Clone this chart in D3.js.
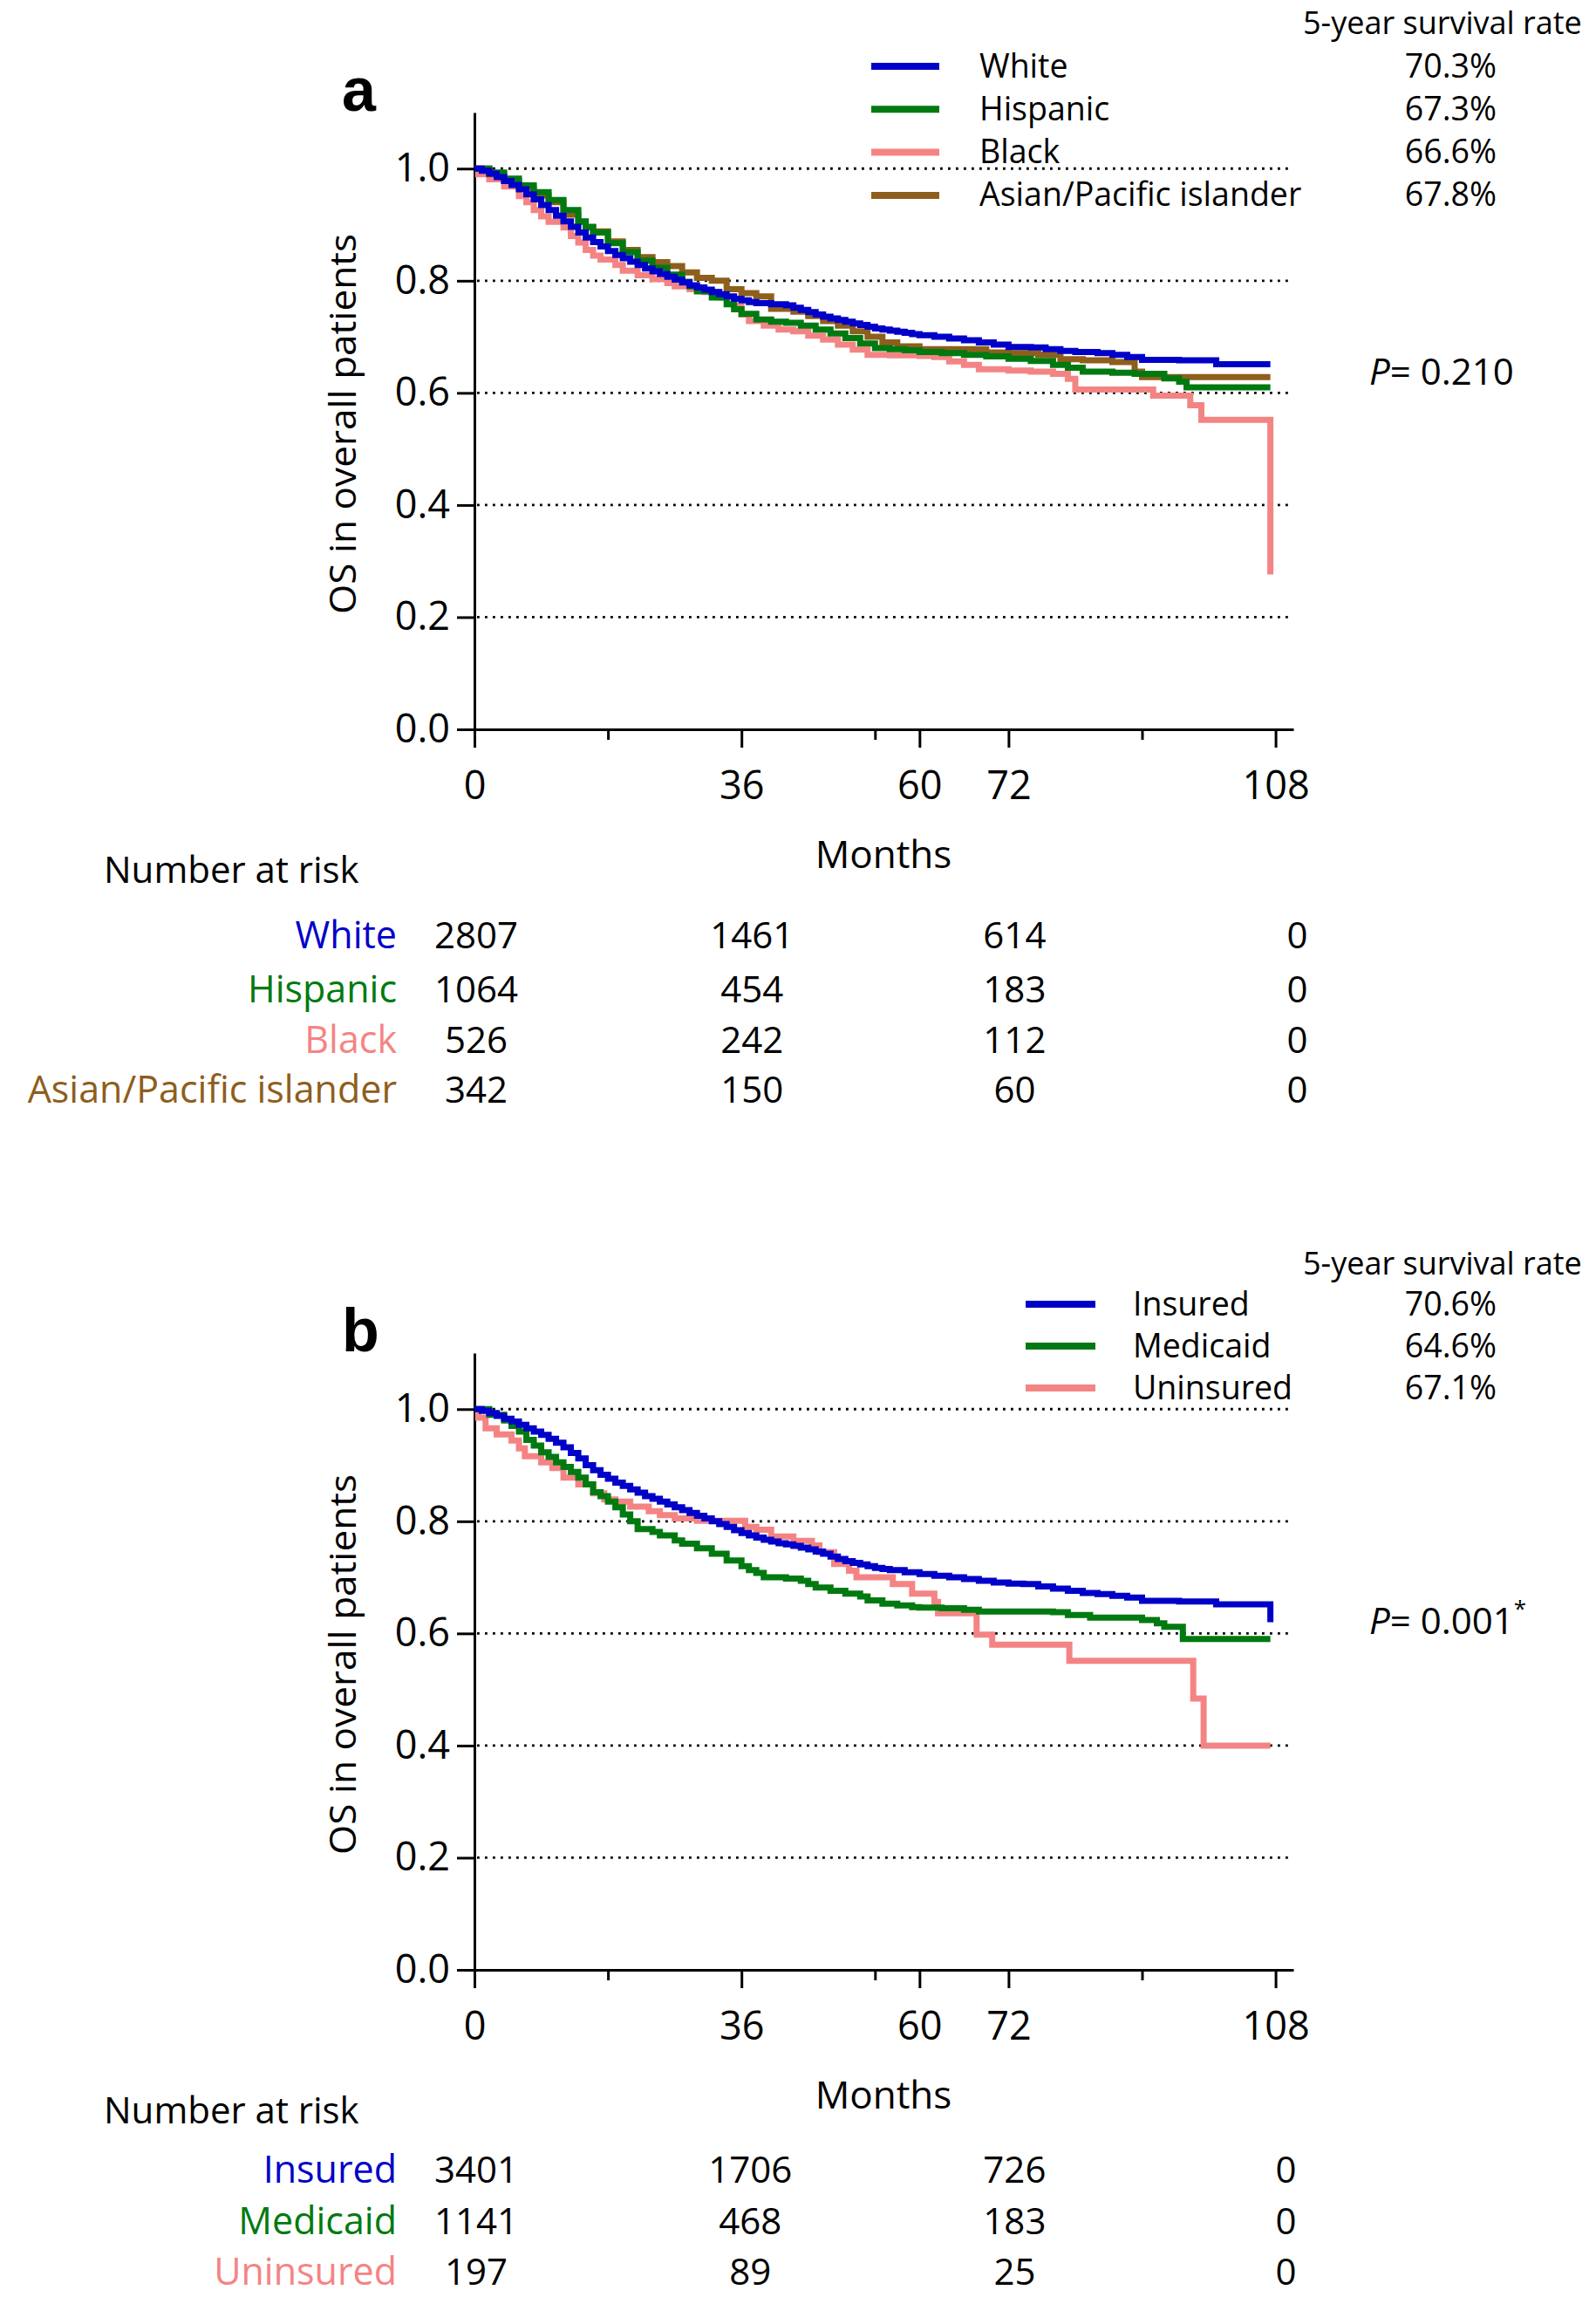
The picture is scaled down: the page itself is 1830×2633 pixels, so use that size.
<!DOCTYPE html>
<html><head><meta charset="utf-8">
<script src="https://cdn.jsdelivr.net/npm/d3@7"></script>
<style>
body{margin:0;background:#fff}
svg text{font-family:'Open Sans',sans-serif;fill:#000}
</style>
</head><body>
<svg id="chart" width="1830" height="2633"></svg>
<script>
// ---------------- DATA ----------------
const monthTicks = [0, 36, 60, 72, 108];
const minorMonthTicks = [18, 54, 90];
const survivalTicks = [0, 0.2, 0.4, 0.6, 0.8, 1.0];
const riskMonths = [0, 36, 72, 108];

// Panel a: race
const raceGroups = ["White", "Hispanic", "Black", "Asian/Pacific islander"];
const raceFiveYear = ["70.3%", "67.3%", "66.6%", "67.8%"];
const raceP = "0.210";
const whiteRisk = [2807, 1461, 614, 0];
const hispanicRisk = [1064, 454, 183, 0];
const blackRisk = [526, 242, 112, 0];
const asianRisk = [342, 150, 60, 0];

const whiteOS = [[0,1],[1,0.996],[2,0.991],[3,0.985],[4,0.978],[5,0.971],[6,0.963],[7,0.954],[8,0.945],[9,0.935],[10,0.926],[11,0.916],[12,0.906],[13,0.896],[14,0.886],[15,0.877],[16,0.869],[17,0.861],[18,0.853],[19,0.846],[20,0.840],[21,0.834],[22,0.828],[23,0.822],[24,0.817],[25,0.812],[26,0.807],[27,0.802],[28,0.797],[29,0.792],[30,0.788],[31,0.784],[32,0.780],[33,0.776],[34,0.772],[35,0.768],[36,0.765],[37,0.762],[38,0.760],[40,0.758],[42,0.756],[43,0.752],[44,0.748],[45,0.744],[46,0.740],[47,0.736],[48,0.733],[49,0.730],[50,0.727],[51,0.724],[52,0.721],[53,0.718],[54,0.715],[55,0.713],[56,0.711],[57,0.709],[58,0.707],[59,0.705],[60,0.703],[62,0.700],[64,0.697],[66,0.694],[68,0.690],[70,0.686],[72,0.682],[75,0.681],[77,0.678],[79,0.675],[81,0.673],[84,0.671],[86,0.668],[88,0.664],[90,0.659],[95,0.658],[100,0.651],[107.3,0.651]];
const hispanicOS = [[0,1],[2,0.993],[4,0.982],[6,0.970],[8,0.958],[10,0.944],[12,0.926],[14,0.906],[15,0.896],[16,0.886],[18,0.867],[20,0.851],[22,0.836],[24,0.823],[26,0.811],[28,0.798],[29,0.790],[30,0.781],[32,0.770],[34,0.758],[35,0.749],[36,0.741],[38,0.731],[40,0.727],[42,0.725],[44,0.720],[46,0.713],[48,0.706],[50,0.698],[52,0.688],[54,0.680],[56,0.678],[58,0.676],[60,0.673],[63,0.671],[66,0.668],[69,0.665],[72,0.661],[75,0.657],[78,0.650],[80,0.645],[82,0.638],[86,0.636],[89,0.634],[93,0.626],[95,0.620],[96,0.610],[107.3,0.610]];
const blackOS = [[0,1],[0.5,0.99],[2,0.981],[4,0.968],[6,0.951],[7,0.940],[8,0.926],[9,0.915],[10,0.905],[12,0.895],[13,0.880],[14,0.868],[15,0.855],[16,0.845],[17,0.838],[19,0.828],[20,0.818],[22,0.810],[24,0.803],[26,0.796],[27,0.790],[29,0.785],[31,0.780],[33,0.770],[35,0.755],[36,0.740],[37,0.728],[39,0.720],[41,0.713],[43,0.710],[45,0.702],[47,0.695],[49,0.686],[51,0.677],[53,0.668],[56,0.667],[60,0.666],[62,0.664],[64,0.656],[66,0.650],[68,0.642],[72,0.640],[75,0.638],[78,0.634],[80,0.625],[81,0.606],[91.5,0.595],[96.5,0.578],[98,0.552],[107.3,0.276]];
const asianOS = [[0,1],[2,0.990],[4,0.978],[6,0.965],[8,0.952],[10,0.940],[12,0.918],[14,0.905],[15,0.895],[16,0.888],[18,0.870],[20,0.855],[22,0.842],[24,0.833],[26,0.826],[28,0.815],[30,0.805],[32,0.800],[34,0.785],[36,0.778],[38,0.772],[40,0.750],[43,0.745],[45,0.737],[47,0.728],[49,0.720],[51,0.710],[53,0.700],[55,0.690],[57,0.683],[60,0.678],[65,0.678],[69,0.672],[72,0.671],[76,0.668],[79,0.660],[82,0.658],[86,0.655],[89,0.638],[90,0.628],[107.3,0.628]];

// Panel b: insurance
const insuranceGroups = ["Insured", "Medicaid", "Uninsured"];
const insuranceFiveYear = ["70.6%", "64.6%", "67.1%"];
const insuranceP = "0.001";
const insuredRisk = [3401, 1706, 726, 0];
const medicaidRisk = [1141, 468, 183, 0];
const uninsuredRisk = [197, 89, 25, 0];

const insuredOS = [[0,1],[1,0.997],[2,0.993],[3,0.988],[4,0.983],[5,0.978],[6,0.972],[7,0.966],[8,0.960],[9,0.954],[10,0.947],[11,0.940],[12,0.932],[13,0.922],[14,0.912],[15,0.900],[16,0.891],[17,0.883],[18,0.876],[19,0.869],[20,0.863],[21,0.857],[22,0.851],[23,0.845],[24,0.840],[25,0.835],[26,0.830],[27,0.825],[28,0.820],[29,0.815],[30,0.810],[31,0.805],[32,0.800],[33,0.795],[34,0.790],[35,0.784],[36,0.779],[37,0.775],[38,0.771],[39,0.767],[40,0.764],[41,0.761],[42,0.759],[43,0.756],[44,0.753],[45,0.750],[46,0.746],[47,0.742],[48,0.737],[49,0.733],[50,0.729],[51,0.726],[52,0.723],[53,0.720],[54,0.717],[55,0.715],[56,0.713],[58,0.709],[60,0.706],[62,0.703],[64,0.700],[66,0.697],[68,0.694],[70,0.691],[72,0.689],[74,0.688],[76,0.684],[78,0.680],[80,0.676],[82,0.672],[84,0.670],[86,0.667],[88,0.664],[90,0.658],[95,0.657],[99,0.657],[100,0.652],[107.3,0.620]];
const medicaidOS = [[0,1],[2,0.990],[4,0.980],[5,0.970],[6,0.960],[7,0.945],[8,0.935],[9,0.923],[10,0.915],[11,0.905],[12,0.897],[13,0.888],[14,0.878],[15,0.866],[16,0.852],[17,0.845],[18,0.835],[19,0.825],[20,0.812],[21,0.800],[22,0.786],[24,0.781],[25,0.775],[27,0.766],[28,0.760],[30,0.752],[32,0.742],[34,0.730],[36,0.720],[37,0.713],[38,0.708],[39,0.700],[42,0.698],[44,0.694],[45,0.688],[46,0.682],[48,0.676],[50,0.671],[52,0.666],[53,0.659],[55,0.653],[57,0.650],[59,0.647],[60,0.646],[63,0.645],[66,0.642],[68,0.639],[78,0.638],[80,0.633],[83,0.628],[90,0.624],[92,0.618],[93,0.612],[95.5,0.590],[107.3,0.590]];
const uninsuredOS = [[0,1],[0.5,0.985],[1.5,0.966],[3,0.955],[5,0.944],[6,0.930],[6.8,0.916],[9,0.905],[10.5,0.895],[12,0.878],[14,0.866],[16,0.850],[17.5,0.839],[19,0.835],[21,0.826],[23.5,0.818],[25,0.811],[27,0.805],[30,0.801],[36.5,0.790],[38,0.785],[40,0.773],[43,0.765],[45.5,0.757],[46.5,0.745],[48.5,0.724],[50.5,0.712],[51.5,0.700],[56.4,0.688],[59,0.671],[62,0.656],[62.5,0.636],[67.7,0.598],[69.8,0.580],[80.2,0.551],[96.9,0.484],[98.3,0.400],[107.3,0.400]];

// ---------------- LAYOUT ----------------
const svg = d3.select("#chart");
const raceColors = ["#0000C8", "#007A10", "#F48484", "#8E5E1C"];
const insColors = ["#0000C8", "#007A10", "#F48484"];

const panels = [
  {label: "a", off: 0, groups: raceGroups, colors: raceColors, five: raceFiveYear, p: raceP, star: false,
   series: [whiteOS, hispanicOS, blackOS, asianOS], drawOrder: [2, 3, 1, 0],
   risk: [whiteRisk, hispanicRisk, blackRisk, asianRisk],
   legLineX: [999, 1077], legTextX: 1123, legY0: 76, legDy: 49.3, riskRowY: [1087, 1149, 1207, 1264],
   riskDx: [2, 12, 7, 25], pY: 441},
  {label: "b", off: 1422, groups: insuranceGroups, colors: insColors, five: insuranceFiveYear, p: insuranceP, star: true,
   series: [insuredOS, medicaidOS, uninsuredOS], drawOrder: [2, 1, 0],
   risk: [insuredRisk, medicaidRisk, uninsuredRisk],
   legLineX: [1176, 1256], legTextX: 1299, legY0: 73, legDy: 48, riskRowY: [1080, 1139, 1197],
   riskDx: [2, 10, 7, 12], pY: 451}
];

const x = d3.scaleLinear().domain([0, 110.4]).range([544, 1483]);

panels.forEach(P => {
  const g = svg.append("g").attr("transform", `translate(0,${P.off})`);
  const y = d3.scaleLinear().domain([0, 1.1]).range([836, 129]);

  // gridlines
  g.append("g").selectAll("line").data(survivalTicks.filter(d => d > 0)).join("line")
    .attr("x1", x(0) + 3).attr("x2", x.range()[1] - 3)
    .attr("y1", d => y(d)).attr("y2", d => y(d))
    .attr("stroke", "#000").attr("stroke-width", 2.8).attr("stroke-dasharray", "2.8 6.2");

  // y axis
  const ya = g.append("g").attr("transform", `translate(${x(0)},0)`)
    .call(d3.axisLeft(y).tickValues(survivalTicks).tickFormat(d3.format(".1f")).tickSize(20).tickSizeOuter(0).tickPadding(8));
  ya.selectAll("path,line").attr("stroke", "#000").attr("stroke-width", 3);
  ya.selectAll("text").style("font-size", "45px").attr("fill", "#000");

  // x axis
  const xa = g.append("g").attr("transform", `translate(0,${y(0)})`)
    .call(d3.axisBottom(x).tickValues(monthTicks).tickSize(21).tickSizeOuter(0).tickPadding(27));
  xa.selectAll("path,line").attr("stroke", "#000").attr("stroke-width", 3);
  xa.selectAll("text").style("font-size", "45px").attr("fill", "#000");
  const xm = g.append("g").attr("transform", `translate(0,${y(0)})`)
    .call(d3.axisBottom(x).tickValues(minorMonthTicks).tickSize(12).tickFormat(""));
  xm.select(".domain").remove();
  xm.selectAll("line").attr("stroke", "#000").attr("stroke-width", 3);

  // curves
  const line = d3.line().x(d => x(d[0])).y(d => y(d[1])).curve(d3.curveStepAfter);
  P.drawOrder.forEach(i => {
    g.append("path").datum(P.series[i]).attr("d", line)
      .attr("fill", "none").attr("stroke", P.colors[i]).attr("stroke-width", 7);
  });

  // panel label
  g.append("text").attr("x", 392).attr("y", 127).text(P.label)
    .style("font-family", "'Liberation Sans', Arial, sans-serif").style("font-weight", "bold").style("font-size", "70px");

  // y title
  g.append("text").attr("transform", `translate(408,486) rotate(-90)`).attr("text-anchor", "middle")
    .style("font-size", "42px").attr("textLength", 436).attr("lengthAdjust", "spacingAndGlyphs")
    .text("OS in overall patients");

  // x title
  g.append("text").attr("x", 1013).attr("y", 995).attr("text-anchor", "middle").style("font-size", "44px").text("Months");

  // legend
  g.append("text").attr("x", 1494).attr("y", 39).style("font-size", "36px").text("5-year survival rate");
  P.groups.forEach((name, i) => {
    const ly = P.legY0 + i * P.legDy;
    g.append("line").attr("x1", P.legLineX[0]).attr("x2", P.legLineX[1]).attr("y1", ly).attr("y2", ly)
      .attr("stroke", P.colors[i]).attr("stroke-width", 8);
    g.append("text").attr("x", P.legTextX).attr("y", ly + 12.5).style("font-size", "37.5px").text(name);
    g.append("text").attr("x", 1716).attr("y", ly + 12.5).attr("text-anchor", "end").style("font-size", "37.5px").text(P.five[i]);
  });

  // p value
  const pt = g.append("text").attr("x", 1570).attr("y", P.pY).style("font-size", "42px");
  pt.append("tspan").style("font-style", "italic").text("P");
  pt.append("tspan").text("= " + P.p);
  if (P.star) pt.append("tspan").attr("dy", -20).style("font-size", "26px").text("*");

  // number at risk
  g.append("text").attr("x", 119).attr("y", 1012).style("font-size", "42px").text("Number at risk");
  P.groups.forEach((name, i) => {
    const ry = P.riskRowY[i];
    g.append("text").attr("x", 455).attr("y", ry).attr("text-anchor", "end")
      .style("font-size", "43px").style("fill", P.colors[i]).text(name);
    g.append("g").selectAll("text").data(P.risk[i]).join("text")
      .attr("x", (d, j) => x(riskMonths[j]) + P.riskDx[j]).attr("y", ry)
      .attr("text-anchor", "middle").style("font-size", "42px").text(d => d);
  });
});
</script>
</body></html>
